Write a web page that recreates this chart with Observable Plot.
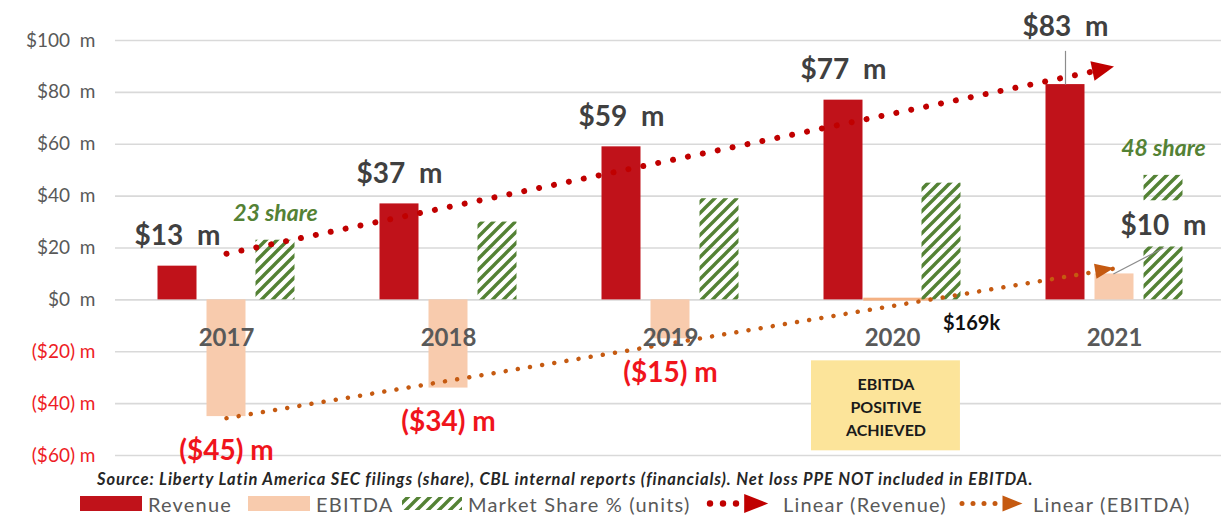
<!DOCTYPE html>
<html>
<head>
<meta charset="utf-8">
<script src="https://cdn.jsdelivr.net/npm/d3@7"></script>
<script src="https://cdn.jsdelivr.net/npm/@observablehq/plot@0.6"></script>
<style>
  body { margin: 0; background: #fff; font-family: Lato, "Open Sans", sans-serif; }
  #wrap { position: relative; width: 1221px; height: 516px; overflow: hidden; background: #fff; }
  #chart svg { display: block; }
  g[aria-label="tick labels"] text { letter-spacing: 1.3px; }
  g[aria-label="value labels"] text { letter-spacing: 2.6px; }
  g[aria-label="share labels"] text { letter-spacing: 1.5px; }
  .src { position: absolute; left: 97px; top: 470px; font: italic bold 16.5px Lato, sans-serif; letter-spacing: 0.9px; color: #262626; white-space: nowrap; line-height: 18px; }
  .lg { position: absolute; top: 492px; height: 22px; line-height: 22px; font: 20px Lato, sans-serif; letter-spacing: 1.2px; color: #595959; white-space: nowrap; }
  .lg svg { display: block; }
</style>
</head>
<body>
<svg width="0" height="0" style="position:absolute">
  <defs>
    <pattern id="hatch" patternUnits="userSpaceOnUse" width="11" height="11">
      <path d="M-2.75,2.75 L2.75,-2.75 M0,11 L11,0 M8.25,13.75 L13.75,8.25" stroke="#548235" stroke-width="3.4"/>
    </pattern>
  </defs>
</svg>
<div id="wrap">
  <div id="chart"></div>
  <div id="source" class="src"></div>
  <div id="legend"></div>
</div>
<script>
// ---------- data ----------
const years = [2017, 2018, 2019, 2020, 2021];
const revenue = [13, 37, 59, 77, 83];
const ebitda = [-45, -34, -15, 0.169, 10];
const share = [23, 30, 39, 45, 48];
const revenueLabels = ["$13\u00a0\u00a0m", "$37\u00a0\u00a0m", "$59\u00a0\u00a0m", "$77\u00a0\u00a0m", "$83\u00a0\u00a0m"];
const ebitdaLabels = ["($45) m", "($34) m", "($15) m", "$169k", "$10\u00a0\u00a0m"];
const shareLabels = ["23 share", "", "", "", "48 share"];
const yTicks = [-60, -40, -20, 0, 20, 40, 60, 80, 100];
const seriesNames = ["Revenue", "EBITDA", "Market Share % (units)", "Linear (Revenue)", "Linear (EBITDA)"];
const sourceText = "Source: Liberty Latin America SEC filings (share), CBL internal reports (financials). Net loss PPE NOT included in EBITDA.";
const noteText = "EBITDA\nPOSITIVE\nACHIEVED";

// ---------- layout / style ----------
const W = 1221, H = 466, ML = 115, MT = 40, MB = 11;
const yearPx = 222;                       // pixels per category step
const xDomain = [2016.5, 2016.5 + (W - ML) / yearPx];
const barStep = 49 / yearPx, barWidth = 39 / yearPx;
const C = {
  revenue: "#c0121a", ebitda: "#f8cbad", ebitdaEdge: "#f4b183", hatch: "url(#hatch)",
  revTrend: "#c00000", ebTrend: "#c55a11", grid: "#d9d9d9",
  tick: "#595959", neg: "#ee1c25", value: "#404040", red: "#f0141c",
  green: "#548235", year: "#595959", note: "#fce49a", leader: "#8c8c8c"
};
const font = "Lato, 'Open Sans', sans-serif";

// ---------- derived tables ----------
const seriesValues = [revenue, ebitda, share];
const seriesFill = [C.revenue, C.ebitda, C.hatch];
const bars = [];
seriesValues.forEach((vals, s) => vals.forEach((v, i) => bars.push({
  year: years[i], value: v, s, series: seriesNames[s], fill: seriesFill[s],
  x1: years[i] + (s - 1) * barStep - barWidth / 2,
  x2: years[i] + (s - 1) * barStep + barWidth / 2
})));

function fit(xs, ys) {
  const mx = d3.mean(xs), my = d3.mean(ys);
  const slope = d3.sum(xs, (x, i) => (x - mx) * (ys[i] - my)) / d3.sum(xs, x => (x - mx) ** 2);
  return x => my + slope * (x - mx);
}
const fRev = fit(years, revenue), fEb = fit(years, ebitda);
const first = years[0], last = years[years.length - 1];
const trendRev = [{x: first, y: fRev(first)}, {x: last, y: fRev(last)}];
const trendEb = [{x: first, y: fEb(first)}, {x: last, y: fEb(last)}];

// label tables
const revLab = years.map((y, i) => ({x: y - barStep, y: revenue[i], t: revenueLabels[i], i})).filter(d => d.i < 4);
const negLab = years.map((y, i) => ({x: y, y: ebitda[i], t: ebitdaLabels[i]})).filter(d => d.y < 0);
const shareLab = years.map((y, i) => ({x: y + barStep, y: share[i], t: shareLabels[i]})).filter(d => d.t);
// callouts (positions in data units)
const callouts = [
  {x: last - barStep, y: 105.2, t: revenueLabels[4]},
  {x: last + barStep, y: 28.6, t: ebitdaLabels[4]}
];
const leaders = [
  {x1: last - barStep, y1: 96, x2: last - barStep, y2: revenue[4]},
  {x1: last + barStep, y1: 20, x2: last - 0.005, y2: ebitda[4]}
];
const whiteBox = [{x1: last - 0.01, x2: last + 0.45, y1: 20.4, y2: 38.2}];
const smallLab = [{x: 2020.356, y: -9.2, t: ebitdaLabels[3]}];
const noteBox = [{x1: 2019.635, x2: 2020.306, y1: -23.5, y2: -58.2}];

// arrowheads drawn with the chart's own scales
function arrowHeads(index, scales) {
  const g = d3.create("svg:g");
  [[trendRev, C.revTrend, 22, 20], [trendEb, C.ebTrend, 19, 15]].forEach(([t, col, L, Wd]) => {
    const x0 = scales.x(t[0].x), y0 = scales.y(t[0].y), x1 = scales.x(t[1].x), y1 = scales.y(t[1].y);
    const a = Math.atan2(y1 - y0, x1 - x0), ux = Math.cos(a), uy = Math.sin(a);
    const bx = x1 - ux * L, by = y1 - uy * L;
    g.append("path")
      .attr("d", `M${x1},${y1}L${bx - uy * Wd / 2},${by + ux * Wd / 2}L${bx + uy * Wd / 2},${by - ux * Wd / 2}Z`)
      .attr("fill", col);
  });
  return g.node();
}

const chart = Plot.plot({
  width: W, height: H, marginLeft: ML, marginRight: 0, marginTop: MT, marginBottom: MB,
  x: {type: "linear", domain: xDomain, axis: null},
  y: {domain: [-60, 100], axis: null},
  style: {fontFamily: font, background: "#fff"},
  marks: [
    Plot.ruleY(yTicks, {stroke: C.grid, strokeWidth: 1.6}),
    Plot.text(yTicks.filter(d => d >= 0), {y: d => d, frameAnchor: "left", dx: -20, textAnchor: "end",
      text: d => `$${d}\u00a0\u00a0m`, fill: C.tick, fontSize: 19, ariaLabel: "tick labels"}),
    Plot.text(yTicks.filter(d => d < 0), {y: d => d, frameAnchor: "left", dx: -20, textAnchor: "end",
      text: d => `($${-d}) m`, fill: C.neg, fontSize: 19, ariaLabel: "tick labels"}),
    Plot.rect(bars.filter(d => d.s === 0), {x1: "x1", x2: "x2", y1: 0, y2: "value", fill: C.revenue}),
    Plot.rect(bars.filter(d => d.s === 1 && Math.abs(d.value) >= 1), {x1: "x1", x2: "x2", y1: 0, y2: "value", fill: C.ebitda}),
    Plot.rect(bars.filter(d => d.s === 1 && Math.abs(d.value) < 1), {x1: "x1", x2: "x2", y1: 0, y2: "value", fill: C.ebitdaEdge, stroke: C.ebitdaEdge, strokeWidth: 2.5, insetLeft: -8, insetRight: -18}),
    Plot.rect(bars.filter(d => d.s === 2), {x1: "x1", x2: "x2", y1: 0, y2: "value", fill: C.hatch}),
    Plot.line(trendEb, {x: "x", y: "y", stroke: C.ebTrend, strokeWidth: 4.5, strokeDasharray: "0.01 12.3", strokeLinecap: "round"}),
    Plot.line(trendRev, {x: "x", y: "y", stroke: C.revTrend, strokeWidth: 6, strokeDasharray: "0.01 15.2", strokeLinecap: "round"}),
    arrowHeads,
    Plot.rect(whiteBox, {x1: "x1", x2: "x2", y1: "y1", y2: "y2", fill: "white"}),
    Plot.link(leaders, {x1: "x1", y1: "y1", x2: "x2", y2: "y2", stroke: C.leader, strokeWidth: 1.2}),
    Plot.text(years, {x: d => d, y: 0, dy: 38, text: d => String(d), fill: C.year, fontSize: 24, fontWeight: "bold"}),
    Plot.text(revLab, {x: "x", y: "y", dy: -30, text: "t", fill: C.value, fontSize: 28, fontWeight: "bold", ariaLabel: "value labels"}),
    Plot.text(callouts, {x: "x", y: "y", text: "t", fill: C.value, fontSize: 28, fontWeight: "bold", ariaLabel: "value labels"}),
    Plot.text(negLab, {x: "x", y: "y", dy: 34, text: "t", fill: C.red, fontSize: 28, fontWeight: "bold", ariaLabel: "value labels"}),
    Plot.text(shareLab, {x: "x", y: "y", dy: -27, text: "t", fill: C.green, fontSize: 23, fontWeight: "bold", fontStyle: "italic", ariaLabel: "share labels"}),
    Plot.text(smallLab, {x: "x", y: "y", text: "t", fill: "#111", fontSize: 20, fontWeight: "bold"}),
    Plot.rect(noteBox, {x1: "x1", x2: "x2", y1: "y1", y2: "y2", fill: C.note}),
    Plot.text(noteBox, {x: d => (d.x1 + d.x2) / 2, y: d => (d.y1 + d.y2) / 2, text: () => noteText,
      lineHeight: 1.44, fill: "#1a1a1a", fontSize: 16, fontWeight: "bold"})
  ]
});
document.getElementById("chart").appendChild(chart);
document.getElementById("source").textContent = sourceText;

// ---------- legend (HTML below the SVG) ----------
const legendLayout = [
  {kind: "swatch", fill: C.revenue, sw: 80, sww: 62, tx: 148, label: seriesNames[0]},
  {kind: "swatch", fill: C.ebitda, sw: 248, sww: 62, tx: 316, label: seriesNames[1]},
  {kind: "hatch", fill: C.hatch, sw: 402, sww: 60, tx: 468, label: seriesNames[2]},
  {kind: "trend", fill: C.revTrend, sw: 706, sww: 72, tx: 783, label: seriesNames[3], r: 3.2, gap: 13, n: 3, L: 24, Wd: 19},
  {kind: "trend", fill: C.ebTrend, sw: 958, sww: 70, tx: 1033, label: seriesNames[4], r: 2.5, gap: 11, n: 4, L: 20, Wd: 16}
];
const legend = document.getElementById("legend");
for (const it of legendLayout) {
  const sv = d3.create("svg").attr("width", it.sww).attr("height", 22);
  if (it.kind === "swatch") {
    sv.append("rect").attr("x", 0).attr("y", 4).attr("width", it.sww).attr("height", 15).attr("fill", it.fill);
  } else if (it.kind === "hatch") {
    sv.append("rect").attr("x", 0).attr("y", 5).attr("width", it.sww).attr("height", 13).attr("fill", it.fill);
  } else {
    for (let k = 0; k < it.n; k++) sv.append("circle").attr("cx", 4 + k * it.gap).attr("cy", 11.5).attr("r", it.r).attr("fill", it.fill);
    const bx = 4 + (it.n - 1) * it.gap + it.r + 5;
    sv.append("path").attr("d", `M${bx},${11.5 - it.Wd / 2}L${bx + it.L},11.5L${bx},${11.5 + it.Wd / 2}Z`).attr("fill", it.fill);
  }
  const box = document.createElement("div");
  box.className = "lg"; box.style.left = it.sw + "px";
  box.appendChild(sv.node());
  legend.appendChild(box);
  const tx = document.createElement("div");
  tx.className = "lg"; tx.style.left = it.tx + "px"; tx.textContent = it.label;
  legend.appendChild(tx);
}
</script>
</body>
</html>
